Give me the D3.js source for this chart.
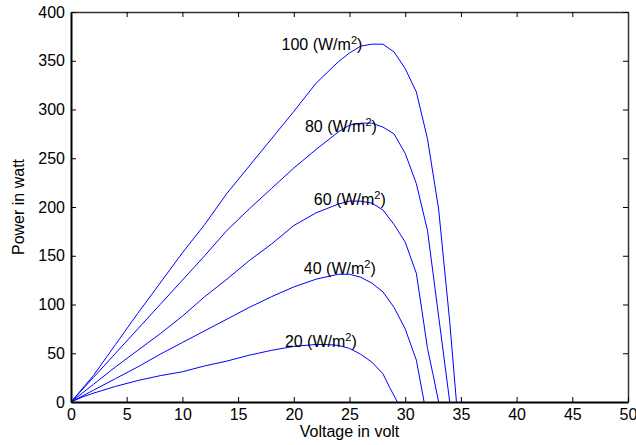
<!DOCTYPE html>
<html>
<head>
<meta charset="utf-8">
<script src="https://d3js.org/d3.v7.min.js"></script>
<style>
  body { margin: 0; background: #fff; }
  text { font-family: "Liberation Sans", Arial, sans-serif; }
</style>
</head>
<body>
<div id="chart"></div>
<script>
// axis ticks
const xTicks = [0, 5, 10, 15, 20, 25, 30, 35, 40, 45, 50];
const yTicks = [0, 50, 100, 150, 200, 250, 300, 350, 400];

// P-V curves, one per irradiance level (voltage in V, power in W)
const volt100 = [0, 2, 4, 6, 8, 10, 12, 14, 16, 18, 20, 22, 24, 25, 26, 27, 28, 29, 30, 31, 32, 33, 34, 34.6];
const power100 = [0, 27, 59, 91, 122, 153, 182, 214, 242, 270, 298, 327, 349, 358, 365, 367, 367, 359, 342, 318, 270, 198, 82, 0];

const volt80 = [0, 2, 4, 6, 8, 10, 12, 14, 16, 18, 20, 22, 24, 25, 26, 27, 28, 29, 30, 31, 32, 33, 34];
const power80 = [0, 25, 50, 75, 100, 125, 150, 176, 198, 219, 240, 259, 277, 284, 286, 286, 282, 275, 255, 224, 176, 88, 0];

const volt60 = [0, 2, 4, 6, 8, 10, 12, 14, 16, 18, 20, 22, 24, 25, 26, 27, 28, 29, 30, 31, 31.5, 32, 32.5, 33];
const power60 = [0, 18, 36, 53, 70, 88, 108, 126, 145, 162, 181, 194, 203, 206, 206, 204, 197, 182, 164, 132, 94, 55, 28, 0];

const volt40 = [0, 2, 4, 6, 8, 10, 12, 14, 16, 18, 20, 22, 24, 25, 26, 27, 28, 29, 30, 31, 31.7];
const power40 = [0, 12, 24, 36, 49, 61, 73, 85, 97, 108, 118, 126, 131, 131, 128, 122, 113, 97, 75, 43, 0];

const volt20 = [0, 1, 2, 4, 6, 8, 10, 12, 14, 16, 18, 20, 22, 23, 24, 25, 26, 27, 28, 28.6, 29.3];
const power20 = [0, 5, 9, 16, 22, 27, 31, 37, 42, 48, 53, 57, 59, 59, 58, 55, 49, 41, 29, 15, 0];

// curve labels: irradiance text and where it starts (data coords)
const labelText = ["100", "80", "60", "40", "20"];
const labelVolt = [18.9, 21.0, 21.8, 20.9, 19.2];
const labelPower = [361, 277, 202, 131, 56.5];

const series = [
  { v: volt100, p: power100 },
  { v: volt80, p: power80 },
  { v: volt60, p: power60 },
  { v: volt40, p: power40 },
  { v: volt20, p: power20 }
];

const W = 636, H = 445;
const margin = { top: 12, right: 8, bottom: 43, left: 71 };
const FS = 16;

const svg = d3.select("#chart").append("svg")
  .attr("width", W)
  .attr("height", H);

const x = d3.scaleLinear().domain([0, 50]).range([margin.left, W - margin.right]);
const y = d3.scaleLinear().domain([0, 400]).range([H - margin.bottom, margin.top]);

const line = d3.line()
  .x(d => x(d[0]))
  .y(d => y(d[1]));

// curves
svg.append("g")
  .selectAll("path")
  .data(series)
  .join("path")
  .attr("d", s => line(s.v.map((v, i) => [v, s.p[i]])))
  .attr("fill", "none")
  .attr("stroke", "#0000ff")
  .attr("stroke-width", 1);

// top and right mirror axes (ticks only)
svg.append("g")
  .attr("transform", `translate(0,${margin.top})`)
  .call(d3.axisTop(x).tickValues(xTicks).tickSizeInner(-5).tickSizeOuter(0).tickFormat(""))
  .call(g => g.select(".domain").attr("stroke", "#333").attr("stroke-width", 1.5));

svg.append("g")
  .attr("transform", `translate(${W - margin.right},0)`)
  .call(d3.axisRight(y).tickValues(yTicks).tickSizeInner(-5).tickSizeOuter(0).tickFormat(""))
  .call(g => g.select(".domain").attr("stroke", "#333").attr("stroke-width", 1.5));

// bottom axis
svg.append("g")
  .attr("transform", `translate(0,${H - margin.bottom})`)
  .call(d3.axisBottom(x).tickValues(xTicks).tickSizeInner(-5).tickSizeOuter(0).tickPadding(6.5))
  .call(g => g.select(".domain").attr("stroke", "#000").attr("stroke-width", 2))
  .call(g => g.selectAll("text").attr("font-size", FS).attr("fill", "#000")
    .attr("font-family", "Liberation Sans, Arial, sans-serif"));

// left axis
svg.append("g")
  .attr("transform", `translate(${margin.left},0)`)
  .call(d3.axisLeft(y).tickValues(yTicks).tickSizeInner(-5).tickSizeOuter(0).tickPadding(6))
  .call(g => g.select(".domain").attr("stroke", "#000").attr("stroke-width", 2))
  .call(g => g.selectAll("text").attr("font-size", FS).attr("fill", "#000")
    .attr("font-family", "Liberation Sans, Arial, sans-serif"));

// axis titles
svg.append("text")
  .attr("x", (x(0) + x(50)) / 2)
  .attr("y", 437)
  .attr("text-anchor", "middle")
  .attr("font-size", FS)
  .text("Voltage in volt");

svg.append("text")
  .attr("transform", `translate(24,${(y(0) + y(400)) / 2}) rotate(-90)`)
  .attr("text-anchor", "middle")
  .attr("font-size", FS)
  .text("Power in watt");

// curve labels with superscript
const lbl = svg.append("g")
  .selectAll("text")
  .data(labelText)
  .join("text")
  .attr("x", (d, i) => x(labelVolt[i]))
  .attr("y", (d, i) => y(labelPower[i]))
  .attr("font-size", FS);

lbl.append("tspan").text(d => `${d} (W/m`);
lbl.append("tspan").attr("dy", -6).attr("font-size", 11).text("2");
lbl.append("tspan").attr("dy", 6).text(")");
</script>
</body>
</html>
